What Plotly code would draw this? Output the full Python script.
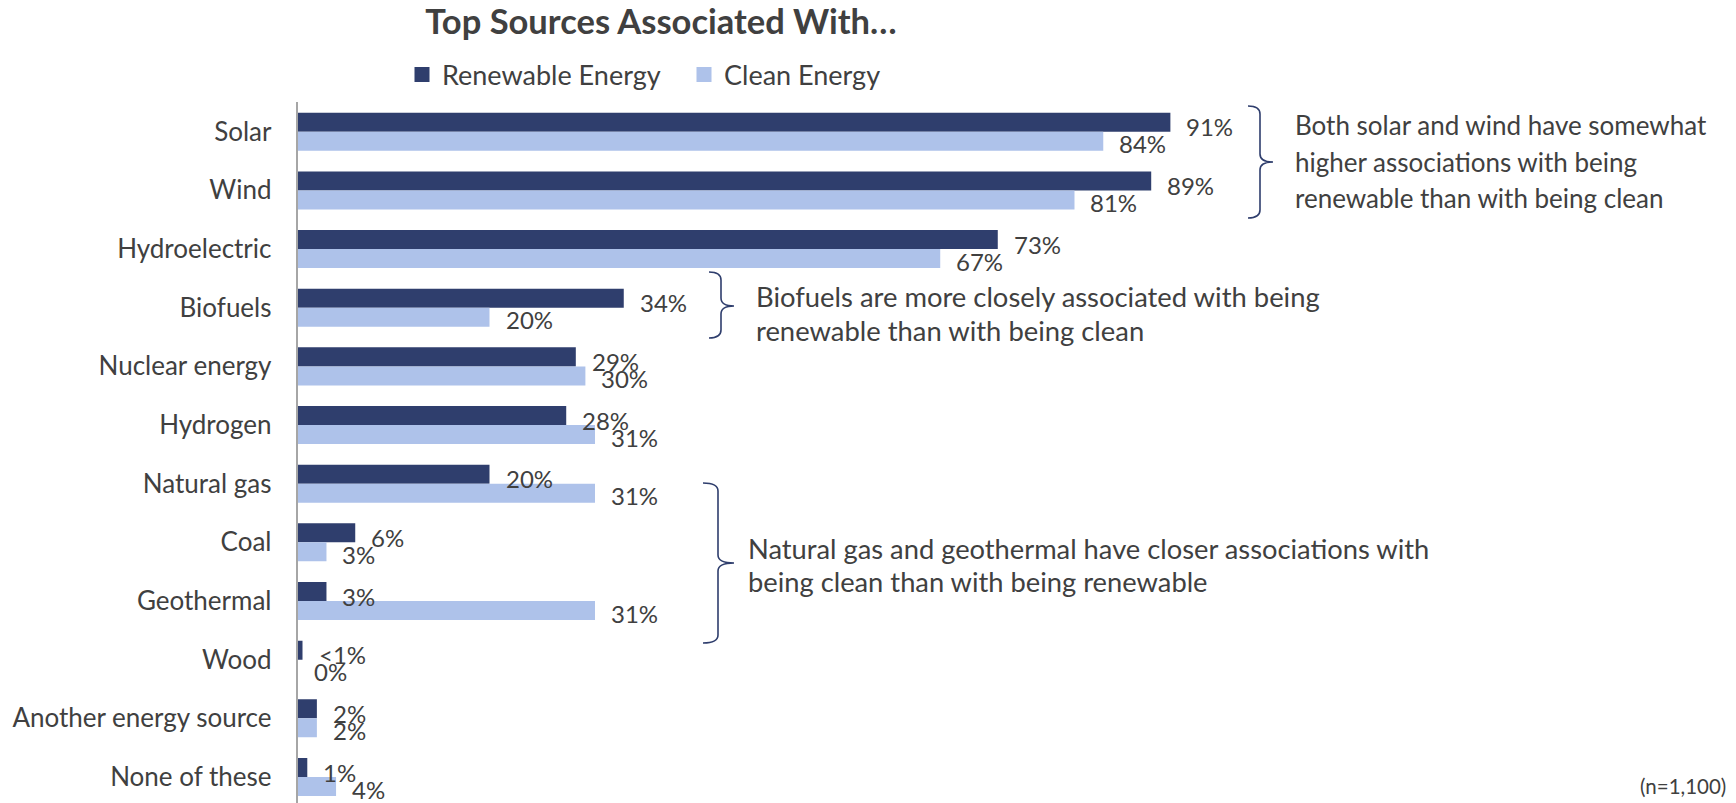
import plotly.graph_objects as go

# ---------------- data ----------------
categories = ["Solar", "Wind", "Hydroelectric", "Biofuels", "Nuclear energy", "Hydrogen",
              "Natural gas", "Coal", "Geothermal", "Wood", "Another energy source", "None of these"]
renewable = [91, 89, 73, 34, 29, 28, 20, 6, 3, 0.5, 2, 1]
renewable_labels = ["91%", "89%", "73%", "34%", "29%", "28%", "20%", "6%", "3%", "<1%", "2%", "1%"]
clean = [84, 81, 67, 20, 30, 31, 31, 3, 31, 0, 2, 4]
clean_labels = ["84%", "81%", "67%", "20%", "30%", "31%", "31%", "3%", "31%", "0%", "2%", "4%"]
series_names = ["Renewable Energy", "Clean Energy"]
title_text = "Top Sources Associated With…"
notes = [
    ["Both solar and wind have somewhat", "higher associations with being",
     "renewable than with being clean"],
    ["Biofuels are more closely associated with being", "renewable than with being clean"],
    ["Natural gas and geothermal have closer associations with",
     "being clean than with being renewable"],
]
sample_note = "(n=1,100)"

# ---------------- style ----------------
W, H = 1736, 803
DARK = "#2F3E6D"
LIGHT = "#AEC2EA"
TXT = "#404040"
FONT = "Lato"

def px(x):
    return x / W

def py(y):
    return 1 - y / H

fig = go.Figure()
fig.add_trace(go.Bar(y=categories, x=renewable, orientation="h", name=series_names[0],
                     marker=dict(color=DARK, line=dict(width=0)), hoverinfo="skip",
                     showlegend=False))
fig.add_trace(go.Bar(y=categories, x=clean, orientation="h", name=series_names[1],
                     marker=dict(color=LIGHT, line=dict(width=0)), hoverinfo="skip",
                     showlegend=False))
# legend entries with larger square swatches
for nm, col in zip(series_names, [DARK, LIGHT]):
    fig.add_trace(go.Scatter(x=[None], y=[None], mode="markers", name=nm,
                             marker=dict(symbol="square", size=15, color=col),
                             hoverinfo="skip", showlegend=True))

annotations = []
for cat, v, lab in zip(categories, renewable, renewable_labels):
    annotations.append(dict(x=v, y=cat, xref="x", yref="y", text=lab, showarrow=False,
                            xanchor="left", yanchor="middle", xshift=14, yshift=5,
                            font=dict(family=FONT, size=24, color=TXT)))
for cat, v, lab in zip(categories, clean, clean_labels):
    annotations.append(dict(x=v, y=cat, xref="x", yref="y", text=lab, showarrow=False,
                            xanchor="left", yanchor="middle", xshift=14, yshift=-12,
                            font=dict(family=FONT, size=24, color=TXT)))

# (left x, first line y, line spacing, font size) in pixels
note_style = [(1293, 125, 36.5, 26), (754, 297, 33, 27.4), (746, 548, 33.5, 27.3)]
for lines, (nx, ny, dy, fs) in zip(notes, note_style):
    for i, line in enumerate(lines):
        annotations.append(dict(x=px(nx), y=py(ny + i * dy), xref="paper", yref="paper",
                                text=line, showarrow=False, xanchor="left", yanchor="middle",
                                align="left", font=dict(family=FONT, size=fs, color=TXT)))
annotations.append(dict(x=px(1728), y=py(786), xref="paper", yref="paper", text=sample_note,
                        showarrow=False, xanchor="right", yanchor="middle",
                        font=dict(family=FONT, size=20.5, color=TXT)))

def brace(xl, xline, xtip, yt, ym, yb):
    r = 8
    pts = [
        f"M{px(xl)},{py(yt)}",
        f"Q{px(xline)},{py(yt)} {px(xline)},{py(yt + r)}",
        f"L{px(xline)},{py(ym - r)}",
        f"Q{px(xline)},{py(ym)} {px(xtip)},{py(ym)}",
        f"Q{px(xline)},{py(ym)} {px(xline)},{py(ym + r)}",
        f"L{px(xline)},{py(yb - r)}",
        f"Q{px(xline)},{py(yb)} {px(xl)},{py(yb)}",
    ]
    return dict(type="path", path=" ".join(pts), xref="paper", yref="paper",
                line=dict(color=DARK, width=1.6))

shapes = [
    brace(1248, 1260, 1273, 106, 162, 218),
    brace(709, 721, 734, 272, 306, 338),
    brace(703, 718, 734, 483, 563, 643),
]

x_per_px = 1 / 9.59
fig.update_layout(
    width=W, height=H,
    margin=dict(l=0, r=0, t=0, b=0, autoexpand=False),
    paper_bgcolor="white", plot_bgcolor="white",
    barmode="group", bargap=0.352, bargroupgap=0,
    font=dict(family=FONT, color=TXT),
    title=dict(text="<b>" + title_text + "</b>", x=px(661), xanchor="center",
               y=py(22), yanchor="middle", font=dict(family=FONT, size=34.5, color=TXT)),
    legend=dict(orientation="h", x=px(402), xanchor="left", y=py(75), yanchor="middle",
                font=dict(family=FONT, size=27, color=TXT), bgcolor="rgba(0,0,0,0)",
                traceorder="normal", entrywidth=237, entrywidthmode="pixels",
                itemsizing="trace"),
    xaxis=dict(domain=[px(297.7), 1], range=[0, (W - 297.7) * x_per_px],
               showgrid=False, zeroline=False, showticklabels=False, showline=False,
               fixedrange=True),
    yaxis=dict(domain=[0, py(102.4)], range=[11.443, -0.5], type="category",
               showgrid=False, zeroline=False, showline=True, linecolor="#A6A6A6",
               linewidth=2, ticks="", ticklabelstandoff=19,
               tickfont=dict(family=FONT, size=26, color=TXT), automargin=False,
               fixedrange=True),
    annotations=annotations,
    shapes=shapes,
)

fig.write_html("out.html")
